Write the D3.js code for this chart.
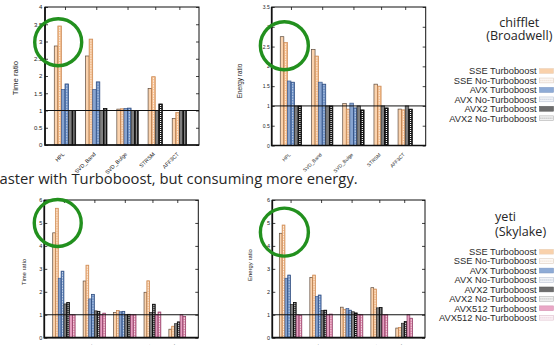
<!DOCTYPE html>
<html><head><meta charset="utf-8">
<script src="https://cdn.jsdelivr.net/npm/d3@7"></script>
<style>body{margin:0;background:#fff}svg{display:block}</style>
</head><body><svg id="c" width="556" height="345"></svg>
<script>
// ---------------- DATA ----------------
const categories = ["HPL", "SVD_Band", "SVD_Bulge", "STRSM", "AFF3CT"];
const chiffletSeries = ["SSE Turboboost", "SSE No-Turboboost", "AVX Turboboost", "AVX No-Turboboost", "AVX2 Turboboost", "AVX2 No-Turboboost"];
const yetiSeries = ["SSE Turboboost", "SSE No-Turboboost", "AVX Turboboost", "AVX No-Turboboost", "AVX2 Turboboost", "AVX2 No-Turboboost", "AVX512 Turboboost", "AVX512 No-Turboboost"];

// one row per series, one column per category (null = not measured)
const chiffletTime = [
  [2.87, 2.58, 1.04, 1.64, 0.77],
  [3.45, 3.07, 1.05, 1.98, 0.94],
  [1.61, 1.61, 1.06, null, null],
  [1.77, 1.83, 1.07, null, null],
  [1.00, 1.00, 1.00, 1.00, 1.00],
  [1.00, 1.06, 1.00, 1.19, 1.00]
];
const chiffletEnergy = [
  [2.75, 2.43, 1.06, 1.55, 0.92],
  [2.60, 2.26, 0.92, 1.50, 0.90],
  [1.63, 1.60, 1.07, null, null],
  [1.60, 1.55, 0.95, null, null],
  [1.00, 1.00, 1.00, 1.00, 1.00],
  [1.00, 1.00, 0.90, 0.95, 0.92]
];
const yetiTime = [
  [4.57, 2.47, 1.10, 1.98, 0.37],
  [5.64, 3.16, 1.19, 2.48, 0.50],
  [2.59, 1.69, 1.13, null, null],
  [2.90, 1.89, 1.15, null, null],
  [1.47, 1.17, 1.00, 1.10, 0.61],
  [1.54, 1.15, 1.02, 1.46, 0.69],
  [1.00, 1.00, 1.00, 1.00, 1.00],
  [1.00, 1.07, 1.00, 1.12, 0.93]
];
const yetiEnergy = [
  [4.55, 2.63, 1.33, 2.18, 0.42],
  [4.91, 2.73, 1.23, 2.12, 0.45],
  [2.59, 1.79, 1.27, null, null],
  [2.73, 1.86, 1.20, null, null],
  [1.45, 1.18, 1.13, 1.30, 0.63],
  [1.54, 1.20, 1.08, 1.32, 0.70],
  [1.00, 1.00, 1.02, 1.00, 1.00],
  [0.98, 1.03, 1.00, 1.00, 0.85]
];
const ticksTime4 = [0, 0.5, 1, 1.5, 2, 2.5, 3, 3.5, 4];
const ticksEnergy35 = [0, 0.5, 1, 1.5, 2, 2.5, 3, 3.5];
const ticksSix = [0, 1, 2, 3, 4, 5, 6];
const referenceValue = 1;
const slideText = "aster with Turboboost, but consuming more energy.";

// ---------------- STYLES ----------------
const barStyle = {
  "SSE Turboboost":        {fill: "#fbd3ae", stroke: "#5e4c3e"},
  "SSE No-Turboboost":     {fill: "#f2b987", stroke: "#c98650", mark: "#ffffff", dash: "1.6,0.9", mw: 0.8},
  "AVX Turboboost":        {fill: "#87a4d0", stroke: "#3d5b8e"},
  "AVX No-Turboboost":     {fill: "#5f86c0", stroke: "#2a4678", mark: "#ffffff", dash: "0.8,0.8", mw: 0.9},
  "AVX2 Turboboost":       {fill: "#7f7f7f", stroke: "#262626"},
  "AVX2 No-Turboboost":    {fill: "#1a1a1a", stroke: "#000000", mark: "#ffffff", dash: "1,1", mw: 1.2},
  "AVX512 Turboboost":     {fill: "#e6a0c1", stroke: "#8b3a62"},
  "AVX512 No-Turboboost":  {fill: "#d7789f", stroke: "#8b3a62", mark: "#ffffff", dash: "1.6,0.9", mw: 0.8}
};
const legendStyle = {
  "SSE Turboboost":        {fill: "#f9d1ab", stroke: "#ead0b8"},
  "SSE No-Turboboost":     {fill: "#fdf9f6", stroke: "#dccbbd", dot: "#eedfd2"},
  "AVX Turboboost":        {fill: "#8eabd6", stroke: "#7d98c4"},
  "AVX No-Turboboost":     {fill: "#f1f3f7", stroke: "#b9c2d3", dot: "#c9d1de"},
  "AVX2 Turboboost":       {fill: "#6d6d6d", stroke: "#5a5a5a"},
  "AVX2 No-Turboboost":    {fill: "#f0f0f0", stroke: "#b3b3b3", dot: "#c4c4c4"},
  "AVX512 Turboboost":     {fill: "#eaa7c6", stroke: "#d895b4"},
  "AVX512 No-Turboboost":  {fill: "#fcf3f7", stroke: "#dcbccb", dot: "#ecd5df"}
};

const svg = d3.select("#c");
const sans = "'Liberation Sans', Arial, Helvetica, sans-serif";
const slideFont = "'Open Sans', 'Noto Sans', sans-serif";

function drawChart(cfg) {
  const g = svg.append("g");
  // slot layout: bars of one category side by side, gap between categories
  let pos = 0;
  const groups = categories.map((c, ci) => {
    const bars = cfg.series.map((s, si) => ({s, v: cfg.values[si][ci]})).filter(d => d.v != null);
    const grp = {c, start: pos, bars};
    pos += bars.length + cfg.gap;
    return grp;
  });
  const total = pos - cfg.gap;
  const x = d3.scaleLinear().domain([-cfg.padL, total + cfg.padR]).range([cfg.x0, cfg.x1]);
  const y = d3.scaleLinear().domain([0, cfg.ymax]).range([cfg.y1, cfg.y0]);

  // bars
  groups.forEach(grp => {
    grp.bars.forEach((b, k) => {
      const st = barStyle[b.s];
      const xl = x(grp.start + k), xr = x(grp.start + k + 1);
      g.append("rect")
        .attr("x", xl).attr("y", y(b.v))
        .attr("width", xr - xl).attr("height", y(0) - y(b.v))
        .attr("fill", st.fill).attr("stroke", st.stroke).attr("stroke-width", 0.7);
      if (st.mark) {
        g.append("line")
          .attr("x1", (xl + xr) / 2).attr("x2", (xl + xr) / 2)
          .attr("y1", y(b.v) + 1).attr("y2", y(0))
          .attr("stroke", st.mark).attr("stroke-width", st.mw)
          .attr("stroke-dasharray", st.dash);
      }
    });
  });

  // reference line
  g.append("line").attr("x1", cfg.x0).attr("x2", cfg.x1)
    .attr("y1", y(referenceValue)).attr("y2", y(referenceValue))
    .attr("stroke", "#111").attr("stroke-width", 1);

  // axes
  const centers = groups.map(grp => grp.start + grp.bars.length / 2);
  const yl = g.append("g").attr("transform", `translate(${cfg.x0},0)`)
    .call(d3.axisLeft(y).tickValues(cfg.ticks).tickSize(-3).tickPadding(cfg.tickPad)
      .tickFormat(d => d3.format("~g")(d)));
  yl.selectAll("text").attr("font-family", sans).attr("font-size", cfg.tickFont).attr("fill", "#222");
  const yr = g.append("g").attr("transform", `translate(${cfg.x1},0)`)
    .call(d3.axisRight(y).tickValues(cfg.ticks).tickSize(-3).tickFormat(""));
  const xt = g.append("g").attr("transform", `translate(0,${cfg.y0})`)
    .call(d3.axisTop(x).tickValues(centers).tickSize(-3).tickFormat(""));
  [yl, yr, xt].forEach(a => { a.select(".domain").remove(); a.selectAll("line").attr("stroke", "#111").attr("stroke-width", 0.8); });

  // category labels
  groups.forEach((grp, i) => {
    g.append("text")
      .attr("transform", `translate(${x(centers[i])},${cfg.y1 + cfg.labOff}) rotate(-45)`)
      .attr("text-anchor", "end").attr("font-family", sans).attr("font-size", cfg.catFont)
      .attr("fill", "#222").text(grp.c);
  });

  // frame
  g.append("rect").attr("x", cfg.x0).attr("y", cfg.y0)
    .attr("width", cfg.x1 - cfg.x0).attr("height", cfg.y1 - cfg.y0)
    .attr("fill", "none").attr("stroke", "#111").attr("stroke-width", 1);
  g.append("path").attr("d", `M${cfg.x0},${cfg.y0}V${cfg.y1}H${cfg.x1}`)
    .attr("fill", "none").attr("stroke", "#111").attr("stroke-width", 1.7);

  // y title
  g.append("text")
    .attr("transform", `translate(${cfg.yLabX},${cfg.yLabY}) rotate(-90)`)
    .attr("text-anchor", "middle").attr("font-family", sans).attr("font-size", cfg.yLabFont)
    .attr("fill", "#222").text(cfg.yLabel);

  // highlight circle (around the HPL SSE bars)
  const h = cfg.highlight;
  g.append("circle").attr("cx", x(h.slot)).attr("cy", y(h.value)).attr("r", h.r)
    .attr("fill", "none").attr("stroke", "#22901e").attr("stroke-width", 3.4);
}

function drawLegend(series, cfg) {
  const g = svg.append("g");
  cfg.title.forEach((t, i) => {
    g.append("text").attr("x", cfg.titleX).attr("y", cfg.titleY[i])
      .attr("text-anchor", cfg.titleAnchor).attr("font-family", slideFont)
      .attr("font-size", 12.6).attr("fill", "#262626").text(t);
  });
  series.forEach((s, i) => {
    const cy = cfg.rowY + i * cfg.rowStep;
    g.append("text").attr("x", cfg.textX).attr("y", cy).attr("dy", "0.35em")
      .attr("text-anchor", "end").attr("font-family", sans).attr("font-size", 9.3)
      .attr("fill", "#2b2b2b").text(s);
    const st = legendStyle[s];
    g.append("rect").attr("x", cfg.textX + 2.8).attr("y", cy - 2.4).attr("width", 14).attr("height", 4.8)
      .attr("fill", st.fill).attr("stroke", st.stroke).attr("stroke-width", 0.6);
    if (st.dot) {
      g.append("line").attr("x1", cfg.textX + 3.6).attr("x2", cfg.textX + 16).attr("y1", cy).attr("y2", cy)
        .attr("stroke", st.dot).attr("stroke-width", 1.4).attr("stroke-dasharray", "1.2,0.8");
    }
  });
}

drawChart({values: chiffletTime, series: chiffletSeries, ticks: ticksTime4, ymax: 4,
  x0: 45, x1: 199, y0: 7, y1: 145, padL: 2.6, padR: 3.5, gap: 2.76,
  tickPad: 2.7, tickFont: 6, catFont: 5.5, labOff: 9.5,
  yLabel: "Time ratio", yLabX: 17.5, yLabY: 78, yLabFont: 7.8,
  highlight: {slot: 1.1, value: 2.98, r: 23.5}});
drawChart({values: chiffletEnergy, series: chiffletSeries, ticks: ticksEnergy35, ymax: 3.5,
  x0: 271.7, x1: 425.7, y0: 7, y1: 145.5, padL: 2.4, padR: 3.75, gap: 2.76,
  tickPad: 2, tickFont: 5, catFont: 4.9, labOff: 9.5,
  yLabel: "Energy ratio", yLabX: 241.5, yLabY: 81, yLabFont: 6.4,
  highlight: {slot: 1.15, value: 2.52, r: 24}});
drawChart({values: yetiTime, series: yetiSeries, ticks: ticksSix, ymax: 6,
  x0: 44.3, x1: 198.3, y0: 200, y1: 337.7, padL: 3, padR: 4.5, gap: 2.86,
  tickPad: 2, tickFont: 5.5, catFont: 5, labOff: 9,
  yLabel: "Time ratio", yLabX: 26, yLabY: 272, yLabFont: 5.9,
  highlight: {slot: 1.8, value: 5.0, r: 23.5}});
drawChart({values: yetiEnergy, series: yetiSeries, ticks: ticksSix, ymax: 6,
  x0: 272.3, x1: 425, y0: 200, y1: 337.7, padL: 2.5, padR: 4.4, gap: 2.86,
  tickPad: 2.2, tickFont: 5.5, catFont: 5, labOff: 9,
  yLabel: "Energy ratio", yLabX: 252, yLabY: 265, yLabFont: 5.9,
  highlight: {slot: 1.8, value: 4.6, r: 24}});

drawLegend(chiffletSeries, {title: ["chifflet", "(Broadwell)"], titleX: 519.3, titleY: [27, 39.7], titleAnchor: "middle",
  textX: 536.7, rowY: 71, rowStep: 9.45});
drawLegend(yetiSeries, {title: ["yeti", "(Skylake)"], titleX: 495, titleY: [220.5, 236], titleAnchor: "start",
  textX: 536.7, rowY: 251.7, rowStep: 9.43});

// slide sentence
const st = svg.append("text").attr("x", -0.5).attr("y", 184)
  .attr("font-family", slideFont).attr("font-size", 13.5).attr("fill", "#262626").text(slideText);
const w = st.node().getComputedTextLength();
st.attr("font-size", 13.5 * 358.5 / w);
</script></body></html>
